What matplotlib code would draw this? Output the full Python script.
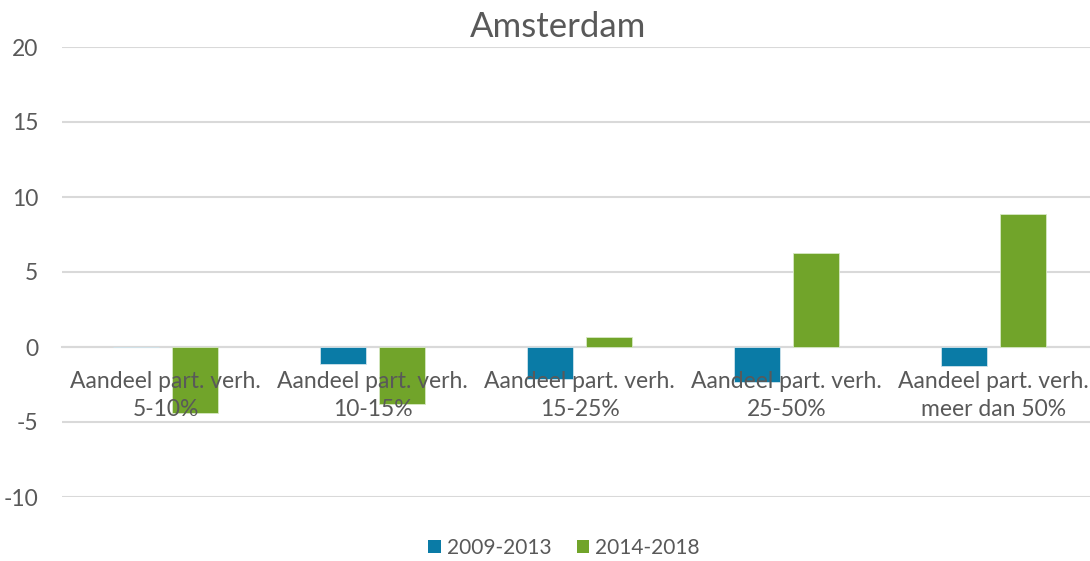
import matplotlib
matplotlib.use("Agg")
import matplotlib.pyplot as plt
from matplotlib.patches import Patch
import numpy as np

# Data
categories = [
    "Aandeel part. verh.\n5-10%",
    "Aandeel part. verh.\n10-15%",
    "Aandeel part. verh.\n15-25%",
    "Aandeel part. verh.\n25-50%",
    "Aandeel part. verh.\nmeer dan 50%",
]
series_names = ["2009-2013", "2014-2018"]
values_2009_2013 = [0.0, -1.1, -2.1, -2.35, -1.25]
values_2014_2018 = [-4.4, -3.8, 0.65, 6.25, 8.9]
y_ticks = [-10, -5, 0, 5, 10, 15, 20]

blue = "#0A7BA6"
green = "#71A42A"
text_col = "#595959"
grid_col = "#D9D9D9"

plt.rcParams["font.family"] = ["Lato", "DejaVu Sans"]

fig = plt.figure(figsize=(10.9, 5.61), dpi=100)
W, H = 1090, 561
# plot area runs slightly past the right edge of the canvas
ax = fig.add_axes([62 / W, 1 - 497 / H, (1097 - 62) / W, (497 - 47) / H])
ax.set_clip_on(False)

x = np.arange(len(categories))
bw = 0.222
off = 0.1425
ax.bar(x - off, values_2009_2013, bw, color=blue, edgecolor="#cfe3ec", linewidth=0.6, zorder=3)
ax.bar(x + off, values_2014_2018, bw, color=green, edgecolor="#d7e8c3", linewidth=0.6, zorder=3)

ax.set_ylim(-10, 20)
ax.set_xlim(-0.5, 4.5)
ax.set_yticks(y_ticks)
ax.set_yticklabels([str(t) for t in y_ticks])
ax.yaxis.grid(True, color=grid_col, linewidth=1.5, zorder=0)
ax.set_axisbelow(True)

for s in ["top", "right", "left"]:
    ax.spines[s].set_visible(False)
ax.spines["bottom"].set_position(("data", 0))
ax.spines["bottom"].set_color(grid_col)
ax.spines["bottom"].set_linewidth(1.5)
ax.spines["bottom"].set_zorder(1)

ax.set_xticks(x)
ax.set_xticklabels(categories, linespacing=1.45)
ax.tick_params(axis="x", length=0, pad=17, labelsize=16.5, labelcolor=text_col)
ax.tick_params(axis="y", length=0, pad=17, labelsize=16.5, labelcolor=text_col)
# category labels sit on top of the bars
ax.xaxis.set_zorder(5)

fig.text(558 / W, 1 - 27 / H, "Amsterdam", ha="center", va="center",
         fontsize=25, color=text_col)

handles = [Patch(facecolor=blue, edgecolor="none"), Patch(facecolor=green, edgecolor="none")]
fig.legend(handles, series_names, loc="center", bbox_to_anchor=(564 / W, 1 - 548 / H),
           ncol=2, frameon=False, fontsize=15, labelcolor=text_col,
           handlelength=0.6, handleheight=0.6, handletextpad=0.3, columnspacing=1.2)

fig.savefig("out.png", dpi=100, facecolor="white")
